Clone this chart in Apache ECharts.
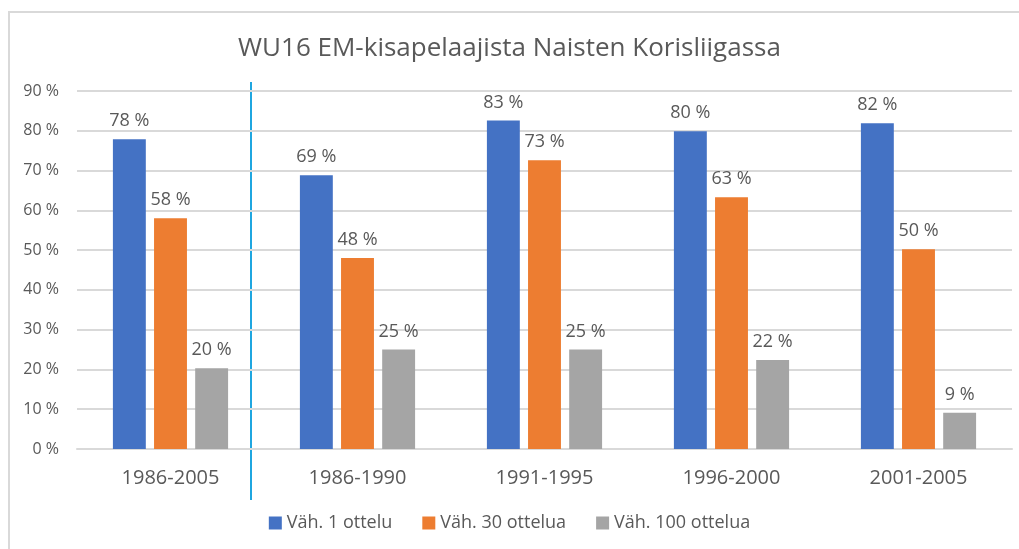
<!doctype html>
<html lang="fi">
<head>
	<meta charset="utf-8" />
	<title>WU16 EM-kisapelaajista Naisten Korisliigassa</title>
	<script src="https://cdn.jsdelivr.net/npm/echarts@6/dist/echarts.min.js"></script>
	<style>
		html, body { margin: 0; padding: 0; background: #fff; }
		#main { width: 1019px; height: 549px; }
	</style>
</head>
<body>
	<div id="main"></div>
	<script>
		var categories = ['1986-2005', '1986-1990', '1991-1995', '1996-2000', '2001-2005'];
		var seriesNames = ['Väh. 1 ottelu', 'Väh. 30 ottelua', 'Väh. 100 ottelua'];
		var vah1 = [77.9, 68.8, 82.6, 79.9, 81.9];
		var vah30 = [58.0, 48.0, 72.6, 63.3, 50.2];
		var vah100 = [20.3, 25.0, 25.0, 22.4, 9.1];
		var yTicks = [0, 10, 20, 30, 40, 50, 60, 70, 80, 90];

		var textColor = '#595959';
		var font = 'Open Sans';

		function barSeries(name, data, color) {
			return {
				name: name,
				type: 'bar',
				data: data,
				barWidth: '17.6%',
				barGap: '25%',
				itemStyle: { color: color },
				label: {
					show: true,
					position: 'top',
					distance: 9,
					color: textColor,
					fontFamily: font,
					fontSize: 18,
					formatter: function (p) { return Math.round(p.value) + ' %'; }
				}
			};
		}

		var chart = echarts.init(document.getElementById('main'));
		chart.setOption({
			animation: false,
			title: {
				text: 'WU16 EM-kisapelaajista Naisten Korisliigassa',
				left: 'center',
				top: 31,
				textStyle: { color: textColor, fontFamily: font, fontSize: 26, fontWeight: 'normal' }
			},
			legend: {
				bottom: 12,
				left: 'center',
				itemWidth: 13,
				itemHeight: 13,
				itemGap: 30,
				icon: 'rect',
				textStyle: { color: textColor, fontFamily: font, fontSize: 18 },
				data: seriesNames
			},
			grid: { left: 77, right: 7, top: 91, bottom: 100, containLabel: false },
			xAxis: {
				type: 'category',
				data: categories,
				axisLine: { lineStyle: { color: '#d9d9d9', width: 2 } },
				axisTick: { show: false },
				axisLabel: { color: textColor, fontFamily: font, fontSize: 20, margin: 19 }
			},
			yAxis: {
				type: 'value',
				min: yTicks[0],
				max: yTicks[yTicks.length - 1],
				interval: 10,
				axisLine: { show: false },
				axisTick: { show: false },
				splitLine: { lineStyle: { color: '#d9d9d9', width: 2 } },
				axisLabel: {
					color: textColor, fontFamily: font, fontSize: 16, margin: 18,
					formatter: function (v) { return v + ' %'; }
				}
			},
			series: [
				barSeries(seriesNames[0], vah1, '#4472C4'),
				barSeries(seriesNames[1], vah30, '#ED7D31'),
				barSeries(seriesNames[2], vah100, '#A5A5A5')
			],
			graphic: [
				{
					type: 'rect',
					shape: { x: 9, y: 12, width: 1030, height: 560 },
					style: { fill: 'none', stroke: '#d9d9d9', lineWidth: 2 },
					silent: true
				},
				{
					type: 'line',
					shape: { x1: 251, y1: 82, x2: 251, y2: 500 },
					style: { stroke: '#1FA6E0', lineWidth: 2 },
					silent: true
				}
			]
		});
	</script>
</body>
</html>
